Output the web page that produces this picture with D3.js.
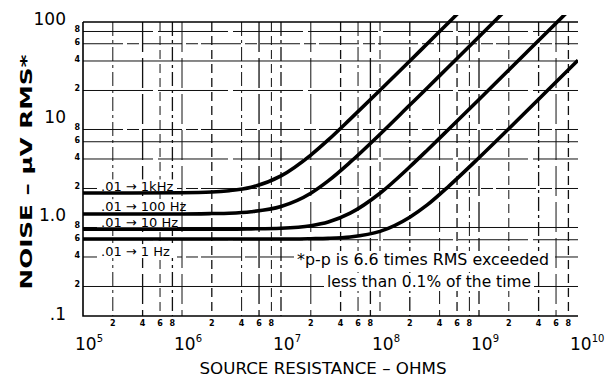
<!DOCTYPE html>
<html>
<head>
<meta charset="utf-8">
<script src="https://cdn.jsdelivr.net/npm/d3@7"></script>
<style>
  body { margin: 0; background: #fff; }
  svg { display: block; }
  text { font-family: "DejaVu Sans", sans-serif; fill: #000; }
</style>
</head>
<body>
<div id="chart"></div>
<script>
const W = 606, H = 380;

// source resistance (ohms), read at these points
const resistance = [1e5, 3e5, 1e6, 2e6, 3e6, 5e6, 1e7, 2e7, 3e7, 5e7, 1e8, 2e8, 3e8, 5e8, 1e9, 2e9, 3e9, 5e9, 1e10];

// noise (uV RMS) for each bandwidth
const noise1k = [1.8, 1.8, 1.81, 1.84, 1.9, 2.06, 2.69, 4.39, 6.26, 10.2, 20.1, 40, 60, 100, 200, null, null, null, null];
const noise100 = [1.1, 1.1, 1.1, 1.11, 1.12, 1.16, 1.31, 1.79, 2.39, 3.71, 7.16, 14.2, 21.2, 35.4, 70.8, 142, null, null, null];
const noise10 = [0.77, 0.77, 0.77, 0.77, 0.77, 0.775, 0.787, 0.835, 0.91, 1.12, 1.79, 3.33, 4.92, 8.14, 16.2, 32.4, 48.6, 81, 162];
const noise1 = [0.61, 0.61, 0.61, 0.61, 0.61, 0.61, 0.61, 0.615, 0.62, 0.64, 0.73, 1.02, 1.36, 2.13, 4.12, 8.14, 12.2, 20.4, 40.7];

const seriesLabels = [".01 \u2192 1kHz", ".01 \u2192 100 Hz", ".01 \u2192 10 Hz", ".01 \u2192 1 Hz"];
const labelNoise = [2.1, 1.32, 0.92, 0.46];

const yMajor = [100, 10, 1, 0.1];
const yMajorLabels = ["100", "10", "1.0", ".1"];
const minorDigits = [2, 4, 6, 8];
const xDecadeExp = [5, 6, 7, 8, 9, 10];

const note = ["*p-p is 6.6 times RMS exceeded", "less than 0.1% of the time"];

const x = d3.scaleLog().domain([1e5, 1e10]).range([83, 578]);
const y = d3.scaleLog().domain([0.1, 100]).range([316, 22]);

const svg = d3.select("#chart").append("svg").attr("width", W).attr("height", H);

svg.append("defs").append("clipPath").attr("id", "clip")
  .append("rect").attr("x", 83).attr("y", 15).attr("width", 495).attr("height", 301);

// grid
const grid = svg.append("g").attr("stroke", "#111").attr("fill", "none");
const hVals = [];
[0.1, 1, 10].forEach(d => minorDigits.forEach(m => hVals.push(d * m)));
grid.selectAll(".h").data(hVals).join("line")
  .attr("x1", x(1e5)).attr("x2", x(1e10))
  .attr("y1", d => y(d)).attr("y2", d => y(d))
  .attr("stroke-width", 1)
  .attr("stroke-dasharray", (d, i) => i % 3 === 1 ? "40,4,12,3" : i % 3 === 2 ? "70,5" : null);

const vVals = [];
[1e5, 1e6, 1e7, 1e8, 1e9].forEach((d, k) => {
  if (k > 0) vVals.push(d);
  minorDigits.forEach(m => vVals.push(d * m));
});
grid.selectAll(".v").data(vVals).join("line")
  .attr("x1", d => x(d)).attr("x2", d => x(d))
  .attr("y1", y(100)).attr("y2", y(0.1))
  .attr("stroke-width", (d, i) => i % 2 ? 1.3 : 1)
  .attr("stroke-dasharray", (d, i) => i % 3 === 0 ? "14,4,3,4" : i % 3 === 1 ? "30,6" : "9,5");

// frame
svg.append("path")
  .attr("d", `M${x(1e5)},${y(100)}H${x(1e10)}M${x(1e5)},${y(100)}V${y(0.1)}H${x(1e10)}`)
  .attr("stroke", "#000").attr("stroke-width", 1.6).attr("fill", "none");

// note with white backing
const noteG = svg.append("g");
const noteRows = [{ t: note[0], cx: 423, cy: 260, w: 252 }, { t: note[1], cx: 429, cy: 282, w: 204 }];
noteG.selectAll("rect").data(noteRows).join("rect")
  .attr("x", d => d.cx - d.w / 2 - 3).attr("y", d => d.cy - 9)
  .attr("width", d => d.w + 6).attr("height", 18).attr("fill", "#fff");
noteG.selectAll("text").data(noteRows).join("text")
  .attr("x", d => d.cx).attr("y", d => d.cy + 5)
  .attr("text-anchor", "middle").attr("font-size", 15)
  .attr("textLength", d => d.w).attr("lengthAdjust", "spacingAndGlyphs")
  .text(d => d.t);

// curve labels
const lab = svg.append("g");
const labelRows = seriesLabels.map((t, i) => ({ t, v: labelNoise[i] }));
lab.selectAll("rect").data(labelRows).join("rect")
  .attr("x", 97).attr("y", d => y(d.v) - 7).attr("width", 80).attr("height", 14).attr("fill", "#fff");
lab.selectAll("text").data(labelRows).join("text")
  .attr("x", 101).attr("y", d => y(d.v) + 5)
  .attr("font-size", 13)
  .text(d => d.t);

// curves
const line = d3.line()
  .defined(d => d[1] != null)
  .x(d => x(d[0])).y(d => y(d[1]))
  .curve(d3.curveMonotoneX);
const curves = [noise1k, noise100, noise10, noise1];
svg.append("g").attr("clip-path", "url(#clip)")
  .selectAll("path").data(curves).join("path")
  .attr("d", s => line(resistance.map((r, i) => [r, s[i]])))
  .attr("fill", "none").attr("stroke", "#000").attr("stroke-width", 3.6);

// y axis labels
svg.append("g").selectAll("text").data(yMajor).join("text")
  .attr("x", 66).attr("y", (d, i) => y(d) + (i === 3 ? 4 : 3))
  .attr("text-anchor", "end").attr("font-size", 17)
  .text((d, i) => yMajorLabels[i]);
svg.append("g").selectAll("text").data(hVals).join("text")
  .attr("x", 80).attr("y", d => y(d) + 1)
  .attr("text-anchor", "end").attr("font-size", 8).attr("font-weight", "bold")
  .text(d => String(Math.round(d / Math.pow(10, Math.floor(Math.log10(d) + 1e-9)))));

// x axis labels
const xMinor = [];
[1e5, 1e6, 1e7, 1e8, 1e9].forEach(d => minorDigits.forEach(m => xMinor.push(d * m)));
svg.append("g").selectAll("text").data(xMinor).join("text")
  .attr("x", d => x(d)).attr("y", 326)
  .attr("text-anchor", "middle").attr("font-size", 8).attr("font-weight", "bold")
  .text((d, i) => minorDigits[i % 4]);

const xl = svg.append("g").selectAll("text").data(xDecadeExp).join("text")
  .attr("x", d => x(Math.pow(10, d)) - 8).attr("y", 350)
  .attr("font-size", 17);
xl.append("tspan").text("10");
xl.append("tspan").attr("dy", -8).attr("font-size", 10).text(d => d);

// axis titles
svg.append("text").attr("x", 323).attr("y", 374).attr("text-anchor", "middle")
  .attr("font-size", 15).attr("textLength", 247).attr("lengthAdjust", "spacingAndGlyphs")
  .text("SOURCE RESISTANCE \u2013 OHMS");
svg.append("text").attr("transform", "translate(32,172) rotate(-90)")
  .attr("text-anchor", "middle").attr("font-size", 15).attr("font-weight", "bold")
  .attr("textLength", 235).attr("lengthAdjust", "spacingAndGlyphs")
  .text("NOISE \u2013 \u03BCV RMS*");
</script>
</body>
</html>
